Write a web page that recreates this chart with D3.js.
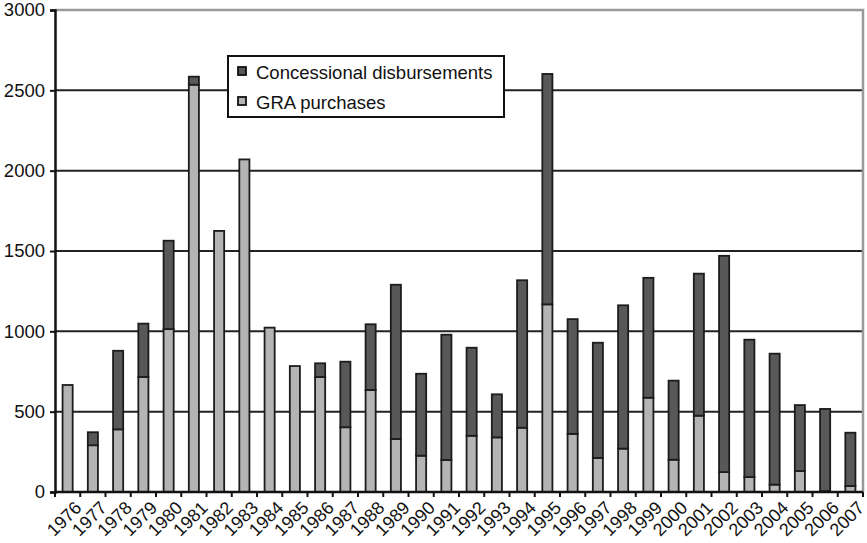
<!DOCTYPE html>
<html>
<head>
<meta charset="utf-8">
<script src="https://cdn.jsdelivr.net/npm/d3@7"></script>
<style>
  html, body { margin: 0; padding: 0; background: #fff; }
  svg { display: block; font-family: "Liberation Sans", Arial, Helvetica, sans-serif; }
</style>
</head>
<body>
<svg id="chart" width="867" height="543"></svg>
<script>
// Years on the category axis
const years = ["1976","1977","1978","1979","1980","1981","1982","1983","1984","1985",
  "1986","1987","1988","1989","1990","1991","1992","1993","1994","1995","1996",
  "1997","1998","1999","2000","2001","2002","2003","2004","2005","2006","2007"];

// GRA purchases (bottom segment of each stack)
const graPurchases = [666, 291, 390, 716, 1014, 2535, 1625, 2070, 1023, 784,
  716, 403, 635, 330, 226, 199, 350, 340, 400, 1168, 362,
  212, 270, 587, 201, 475, 124, 93, 46, 131, 5, 37];

// Concessional disbursements (stacked on top)
const concessional = [0, 81, 489, 332, 550, 50, 0, 0, 0, 0,
  85, 408, 409, 960, 510, 780, 548, 268, 918, 1434, 714,
  717, 892, 746, 492, 884, 1346, 855, 815, 410, 512, 332];

const yTicks = [0, 500, 1000, 1500, 2000, 2500, 3000];

const seriesNames = ["Concessional disbursements", "GRA purchases"];
const seriesColors = { "Concessional disbursements": "#585858", "GRA purchases": "#b4b4b4" };

const svg = d3.select("#chart");
const margin = { left: 55, right: 4, top: 10, bottom: 51 };
const W = 867, H = 543;
const FONT = "'Liberation Sans', Arial, Helvetica, sans-serif";

const x = d3.scaleBand()
  .domain(years)
  .range([margin.left, W - margin.right])
  .paddingInner(0.6)
  .paddingOuter(0.3);

const y = d3.scaleLinear()
  .domain([0, 3000])
  .range([H - margin.bottom, margin.top]);

// Gridlines
svg.append("g")
  .selectAll("line")
  .data(yTicks.filter(t => t > 0 && t < 3000))
  .join("line")
  .attr("x1", margin.left).attr("x2", W - margin.right)
  .attr("y1", d => y(d)).attr("y2", d => y(d))
  .attr("stroke", "#222").attr("stroke-width", 2);

// Top and right frame in grey
svg.append("path")
  .attr("d", `M${margin.left},${y(3000)}H${W - margin.right}V${y(0)}`)
  .attr("fill", "none")
  .attr("stroke", "#9a9a9a")
  .attr("stroke-width", 2.5);

// Stacked bars
const rows = years.map((yr, i) => ({ year: yr, gra: graPurchases[i], conc: concessional[i] }));
const stack = d3.stack().keys(["gra", "conc"]);
const layers = stack(rows);
const layerColor = ["#b4b4b4", "#585858"];

svg.append("g")
  .selectAll("g")
  .data(layers)
  .join("g")
  .attr("fill", (d, i) => layerColor[i])
  .selectAll("rect")
  .data(d => d.filter(s => s[1] - s[0] > 0))
  .join("rect")
  .attr("x", d => x(d.data.year))
  .attr("width", x.bandwidth())
  .attr("y", d => y(d[1]))
  .attr("height", d => y(d[0]) - y(d[1]))
  .attr("stroke", "#1c1c1c")
  .attr("stroke-width", 1.8);

// Y axis
const yAxis = d3.axisLeft(y).tickValues(yTicks).tickSize(5).tickPadding(5).tickFormat(d3.format("d"));
const gy = svg.append("g").attr("transform", `translate(${margin.left},0)`).call(yAxis)
  .attr("font-family", FONT);
gy.select(".domain").attr("stroke", "#111").attr("stroke-width", 2.5);
gy.selectAll(".tick line").attr("stroke", "#111").attr("stroke-width", 2);
gy.selectAll(".tick text").attr("font-size", 18.5).attr("fill", "#111");

// X axis: ticks between categories, rotated labels
const step = x.step();
const xBase = y(0);
const gx = svg.append("g").attr("font-family", FONT);
gx.append("line")
  .attr("x1", margin.left).attr("x2", W - margin.right)
  .attr("y1", xBase).attr("y2", xBase)
  .attr("stroke", "#111").attr("stroke-width", 2.5);
gx.selectAll("line.tk")
  .data(years.map(yr => x(yr) + x.bandwidth() / 2 - step / 2)
    .concat([x(years[years.length - 1]) + x.bandwidth() / 2 + step / 2]))
  .join("line")
  .attr("class", "tk")
  .attr("x1", d => d).attr("x2", d => d)
  .attr("y1", xBase).attr("y2", xBase + 5)
  .attr("stroke", "#111").attr("stroke-width", 2);
gx.selectAll("text")
  .data(years)
  .join("text")
  .attr("transform", d => `translate(${x(d) + x.bandwidth() / 2 + 6},${xBase + 8}) rotate(-45)`)
  .attr("text-anchor", "end")
  .attr("dy", "0.71em")
  .attr("font-size", 18)
  .attr("fill", "#111")
  .text(d => d);

// Legend
const lg = svg.append("g").attr("transform", "translate(228,56)").attr("font-family", FONT);
lg.append("rect")
  .attr("width", 276).attr("height", 61)
  .attr("fill", "#fff").attr("stroke", "#111").attr("stroke-width", 2);
seriesNames.forEach((name, i) => {
  const row = lg.append("g").attr("transform", `translate(0,${16 + i * 30})`);
  row.append("rect")
    .attr("x", 10).attr("y", -5).attr("width", 8).attr("height", 8)
    .attr("fill", seriesColors[name]).attr("stroke", "#111").attr("stroke-width", 1.8);
  row.append("text")
    .attr("x", 28).attr("y", 7)
    .attr("font-size", 18.5).attr("fill", "#111")
    .text(name);
});
</script>
</body>
</html>
